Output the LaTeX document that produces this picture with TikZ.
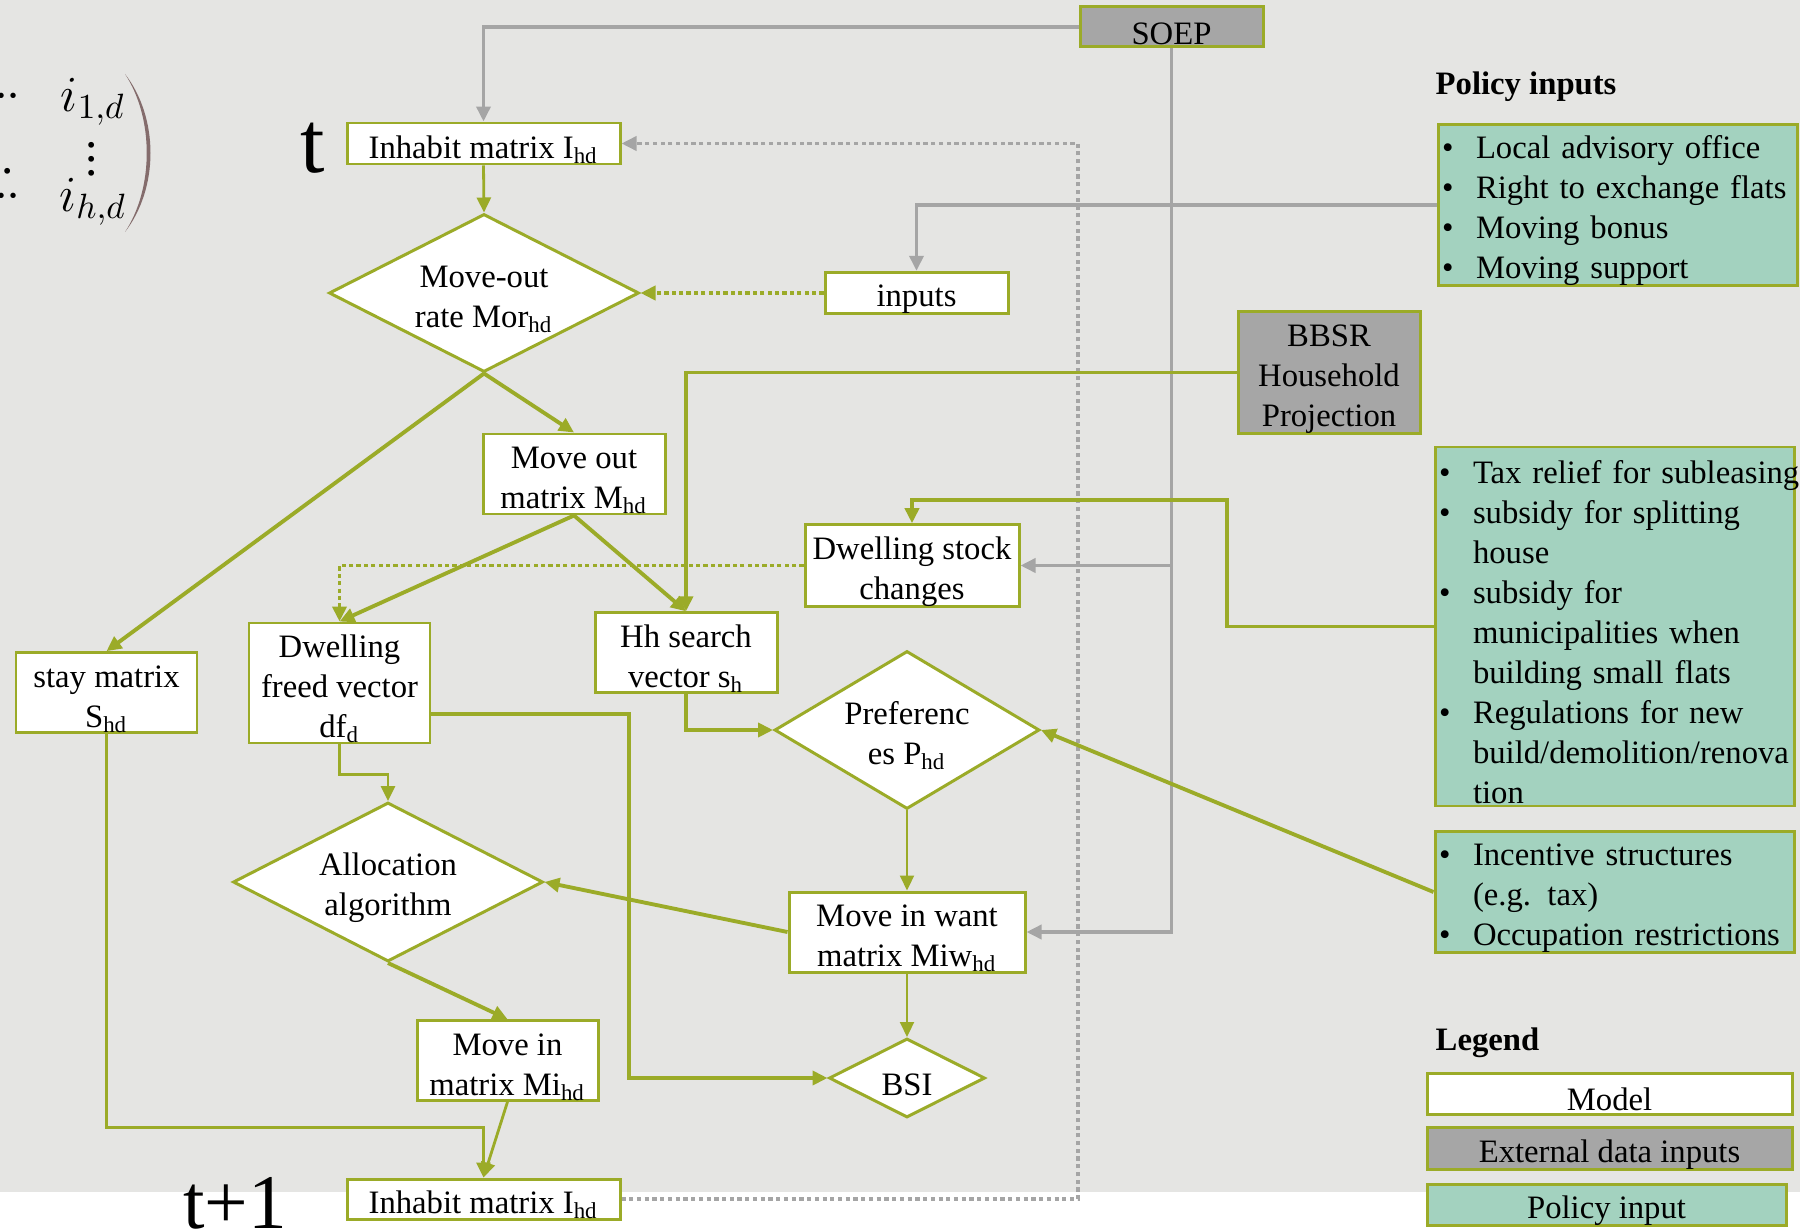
\documentclass[tikz,border=0pt]{standalone}
\usepackage{fontspec}
\setmainfont{Liberation Serif}
\usetikzlibrary{arrows.meta,positioning,calc,shapes.geometric}
\definecolor{mGreen}{RGB}{155,171,40}
\definecolor{mGrey}{RGB}{165,165,165}
\definecolor{dGrey}{RGB}{166,166,166}
\definecolor{mMint}{RGB}{163,210,191}
\definecolor{bgGrey}{RGB}{229,229,227}
\definecolor{parBrown}{RGB}{132,108,108}
\newcommand{\dfont}{\fontsize{9.3}{11.4}\selectfont}
\newcommand{\lowr}{\rule{0pt}{9.8pt}}
\newcommand{\pb}[1]{\mbox{\makebox[3.4mm][l]{\textbullet}#1}}
\newcommand{\pc}[1]{\mbox{\hspace*{3.4mm}#1}}
\newcommand{\twodots}{$\mathord{\cdotp}\mkern-1mu\mathord{\cdotp}$}
\tikzset{
  mdl/.style={draw=mGreen, fill=white, line width=0.85pt, align=center,
              font=\dfont, inner sep=0pt, execute at begin node=\lowr},
  ext/.style={mdl, fill=dGrey},
  lgpol/.style={mdl, fill=mMint},
  pol/.style={draw=mGreen, fill=mMint, line width=0.85pt, align=left, font=\dfont,
              inner xsep=0.4mm, inner ysep=0pt, text width=35.1mm, minimum width=35.9mm,
              execute at begin node=\lowr},
  dia/.style={diamond, mdl},
  mth/.style={font=\fontsize{14}{16}\selectfont, inner sep=0pt},
  ar/.style={-{Triangle[length=1.5mm,width=1.4mm]}, draw=mGreen, line width=1.1pt},
  armid/.style={ar, line width=0.8pt},
  arthin/.style={ar, line width=0.6pt},
  ardot/.style={ar, dash pattern=on 1.2pt off 0.9pt},
  arg/.style={-{Triangle[length=1.5mm,width=1.4mm]}, draw=mGrey, line width=1pt},
  argdot/.style={arg, dash pattern=on 1.2pt off 1pt},
}
\begin{document}
\begin{tikzpicture}[x=0.1mm, y=-0.1mm]
\useasboundingbox (0,0) rectangle (1800,1232);
\fill[bgGrey] (0,0) rectangle (1800,1192);
\fill[white] (0,1192) rectangle (1800,1232);

% matrix fragment, cut at the left edge
\node[mth] (ione) at (93,102) {$i_{1,d}$};
\node[mth] (ivd) at (92,149) {$\vdots$};
\node[mth] (ihd) at (93,202) {$i_{h,d}$};
\node[mth, anchor=east] (cdA) at (21,97) {\twodots};
\node[mth, anchor=east] (ddA) at (17,150) {$\ddots$};
\node[mth, anchor=east] (cdB) at (21,197) {\twodots};
\fill[parBrown] (125,74) .. controls (159,118) and (159,188) .. (125,232)
  .. controls (154,188) and (154,118) .. (125,74);

% model nodes
\node[mdl, minimum width=27.3mm, minimum height=4.1mm] (inhT) at (483.5,143.5) {Inhabit matrix I\textsubscript{hd}};
\node[font=\fontsize{25}{28}\selectfont, anchor=base, inner sep=0pt] (tlab) at (313,173) {t};
\node[ext, execute at begin node={}, minimum width=18.3mm, minimum height=4mm] (soep) at (1171.5,27) {SOEP};
\node[dia, aspect=1.96, minimum width=31mm, minimum height=15.8mm] (mor) at (484,293) {\lowr Move-out\\rate Mor\textsubscript{hd}};
\node[mdl, minimum width=18.3mm, minimum height=4mm] (inp) at (916.5,293) {inputs};
\node[ext, minimum width=18.2mm, minimum height=12.1mm] (bbsr) at (1329,372.5) {\lowr BBSR\\Household\\Projection};
\node[mdl, minimum width=18.2mm, minimum height=8mm] (mo) at (574,474) {\lowr Move out\\matrix M\textsubscript{hd}};
\node[mdl, minimum width=21.4mm, minimum height=7.9mm] (dsc) at (912,565.5) {\lowr Dwelling stock\\changes};
\node[mdl, minimum width=18.1mm, minimum height=7.9mm] (stay) at (106.5,692.5) {\lowr stay matrix\\S\textsubscript{hd}};
\node[mdl, minimum width=18.1mm, minimum height=12mm] (dfv) at (339.5,683) {\lowr Dwelling\\freed vector\\df\textsubscript{d}};
\node[mdl, minimum width=18.2mm, minimum height=7.9mm] (hh) at (686,652.5) {\lowr Hh search\\vector s\textsubscript{h}};
\node[dia, aspect=1.68, minimum width=26.5mm, minimum height=15.8mm] (pref) at (907,730) {\lowr Preferenc\\es P\textsubscript{hd}};
\node[dia, aspect=1.95, minimum width=31mm, minimum height=15.9mm] (alloc) at (388,882) {\lowr Allocation\\algorithm};
\node[mdl, minimum width=23.6mm, minimum height=8mm] (miw) at (907,932) {\lowr Move in want\\matrix Miw\textsubscript{hd}};
\node[mdl, minimum width=18.1mm, minimum height=7.9mm] (mi) at (507.5,1060.5) {\lowr Move in\\matrix Mi\textsubscript{hd}};
\node[dia, aspect=1.97, minimum width=15.6mm, minimum height=7.9mm] (bsi) at (907,1078) {BSI};
\node[mdl, minimum width=27.3mm, minimum height=4mm] (inhT1) at (483.5,1199) {Inhabit matrix I\textsubscript{hd}};
\node[font=\fontsize{22}{26}\selectfont, anchor=base, inner sep=0pt] (t1lab) at (235,1228) {t+1};

% policy inputs
\node[font=\dfont\bfseries, anchor=west, inner sep=0pt] (poltitle) at (1435,87) {Policy inputs};
\node[pol, minimum height=16mm] (pol1) at (1617.5,205) {\pb{Local advisory office}\\
  \pb{Right to exchange flats}\\ \pb{Moving bonus}\\ \pb{Moving support}};
\node[pol, minimum height=35.9mm] (pol2) at (1614.5,626.5) {\pb{Tax relief for subleasing}\\
  \pb{subsidy for splitting}\\ \pc{house}\\ \pb{subsidy for}\\ \pc{municipalities when}\\
  \pc{building small flats}\\ \pb{Regulations for new}\\ \pc{build/demolition/renova}\\ \pc{tion}};
\node[pol, minimum height=12mm] (pol3) at (1614.5,892) {\pb{Incentive structures}\\
  \pc{(e.g. tax)}\\ \pb{Occupation restrictions}};

% legend
\node[font=\dfont\bfseries, anchor=west, inner sep=0pt] (legtitle) at (1435,1043) {Legend};
\node[mdl, minimum width=36.5mm, minimum height=4.1mm] (lgm) at (1609.5,1093.5) {Model};
\node[ext, minimum width=36.5mm, minimum height=4.1mm] (lge) at (1609.5,1148.5) {External data inputs};
\node[lgpol, minimum width=35.9mm, minimum height=4mm] (lgp) at (1606.5,1205) {Policy input};

% connectors
\draw[arg] (soep.west) -| (inhT.north);
\draw[arg] (soep.south) |- (miw.east);
\draw[arg] (soep.south |- dsc.east) -- (dsc.east);
\draw[arg] (pol1.west) -| (inp.north);
\draw[ardot] (inp.west) -- (mor.east);
\draw[armid] (inhT.south) -- (mor.north);
\coordinate (loopx) at (1078,0);
\draw[argdot] (inhT1.east) -- (inhT1.east -| loopx) -- (inhT.east -| loopx) -- (inhT.east);
\draw[ar] (mor.south) -- (stay.north);
\draw[ar] (mor.south) -- (mo.north);
\draw[ar] (bbsr.west) -| (hh.north);
\coordinate (p2bend) at (1227,500);
\draw[ar] (pol2.west) -| (p2bend) -| (dsc.north);
\draw[ardot] (dsc.west) -| (dfv.north);
\draw[ar] (mo.south) -- (dfv.north);
\draw[ar] (mo.south) -- (hh.north);
\draw[ar] (hh.south) |- (pref.west);
\draw[ar] (pol3.west) -- (pref.east);
\draw[arthin] (pref.south) -- (miw.north);
\draw[ar] (miw.west) -- (alloc.east);
\draw[armid] (dfv.south) -- ++(0,30) -| (alloc.north);
\coordinate (dfvout) at ($(dfv.east)+(0,31)$);
\coordinate (bsikink) at (629,0);
\draw[ar] (dfvout) -- (dfvout -| bsikink) |- (bsi.west);
\draw[arthin] (miw.south) -- (bsi.north);
\draw[ar] (alloc.south) -- (mi.north);
\draw[armid] (mi.south) -- (inhT1.north);
\draw[armid] (stay.south) |- ($(inhT1.north)+(0,-50)$) -- (inhT1.north);
\end{tikzpicture}
\end{document}
